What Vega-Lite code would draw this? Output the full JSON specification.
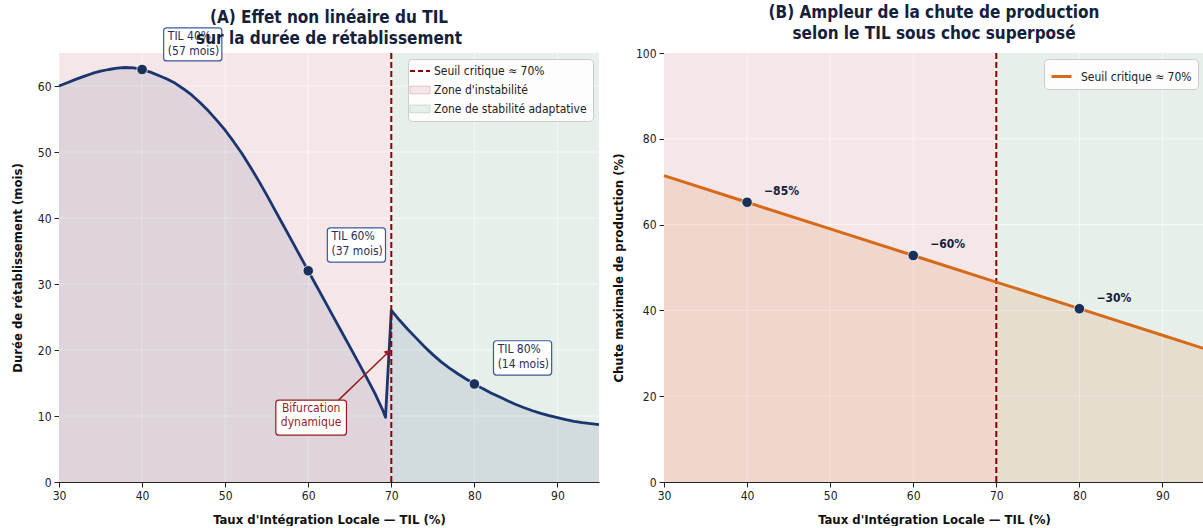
{
  "$schema": "https://vega.github.io/schema/vega-lite/v6.json",
  "background": "white",
  "padding": {"left": 11, "top": 4, "right": 0, "bottom": 0},
  "spacing": 11,
  "resolve": {"scale": {"fill": "independent", "stroke": "independent"}, "legend": {"fill": "independent", "stroke": "independent"}},
  "config": {
    "font": "DejaVu Sans Condensed, DejaVu Sans",
    "view": {"stroke": null},
    "axis": {
      "domainColor": "#222222", "tickColor": "#222222", "labelColor": "#222222",
      "labelFontSize": 12, "titleFontSize": 13, "titleFontWeight": "bold", "titleColor": "#111111",
      "grid": false, "tickSize": 5, "labelPadding": 3, "titlePadding": 8, "labelFlush": false
    },
    "axisX": {"titlePadding": 12},
    "title": {"fontSize": 17, "fontWeight": "bold", "color": "#14213d", "lineHeight": 21, "offset": 4},
    "legend": {
      "fillColor": "rgba(255,255,255,0.85)", "strokeColor": "#cccccc", "cornerRadius": 4,
      "padding": 6, "offset": 6, "labelFontSize": 12, "labelColor": "#222222", "symbolSize": 400,
      "rowPadding": 7, "labelOffset": 8
    },
    "text": {"lineBreak": "\n"}
  },
  "datasets": {
    "curve": [
      {"til": 30, "duree": 60.0}, {"til": 31, "duree": 60.5}, {"til": 32, "duree": 61.0}, {"til": 33, "duree": 61.45},
      {"til": 34, "duree": 61.9}, {"til": 35, "duree": 62.25}, {"til": 36, "duree": 62.5}, {"til": 37, "duree": 62.7},
      {"til": 38, "duree": 62.8}, {"til": 39, "duree": 62.75}, {"til": 40, "duree": 62.5}, {"til": 41, "duree": 62.1},
      {"til": 42, "duree": 61.6}, {"til": 43, "duree": 61.05}, {"til": 44, "duree": 60.4}, {"til": 45, "duree": 59.55},
      {"til": 46, "duree": 58.6}, {"til": 47, "duree": 57.45}, {"til": 48, "duree": 56.2}, {"til": 49, "duree": 54.8},
      {"til": 50, "duree": 53.3}, {"til": 51, "duree": 51.6}, {"til": 52, "duree": 49.8}, {"til": 53, "duree": 47.8},
      {"til": 54, "duree": 45.7}, {"til": 55, "duree": 43.5}, {"til": 56, "duree": 41.2}, {"til": 57, "duree": 38.9},
      {"til": 58, "duree": 36.6}, {"til": 59, "duree": 34.3}, {"til": 60, "duree": 32.0}, {"til": 61, "duree": 29.7},
      {"til": 62, "duree": 27.4}, {"til": 63, "duree": 25.1}, {"til": 64, "duree": 22.8}, {"til": 65, "duree": 20.5},
      {"til": 66, "duree": 18.2}, {"til": 67, "duree": 15.9}, {"til": 68, "duree": 13.5}, {"til": 69, "duree": 10.8},
      {"til": 69.3, "duree": 9.8}, {"til": 70, "duree": 26.0}, {"til": 71, "duree": 24.5}, {"til": 72, "duree": 23.1},
      {"til": 73, "duree": 21.8}, {"til": 74, "duree": 20.5}, {"til": 75, "duree": 19.3}, {"til": 76, "duree": 18.2},
      {"til": 77, "duree": 17.25}, {"til": 78, "duree": 16.4}, {"til": 79, "duree": 15.6}, {"til": 80, "duree": 14.85},
      {"til": 81, "duree": 14.15}, {"til": 82, "duree": 13.5}, {"til": 83, "duree": 12.9}, {"til": 84, "duree": 12.3},
      {"til": 85, "duree": 11.75}, {"til": 86, "duree": 11.25}, {"til": 87, "duree": 10.8}, {"til": 88, "duree": 10.4},
      {"til": 89, "duree": 10.05}, {"til": 90, "duree": 9.75}, {"til": 91, "duree": 9.45}, {"til": 92, "duree": 9.2},
      {"til": 93, "duree": 9.0}, {"til": 94, "duree": 8.85}, {"til": 95, "duree": 8.7}
    ],
    "curvePts": [{"til": 40, "duree": 62.5}, {"til": 60, "duree": 32.0}, {"til": 80, "duree": 14.85}],
    "zones": [
      {"zone": "Zone d'instabilité", "x0": 30, "x1": 70},
      {"zone": "Zone de stabilité adaptative", "x0": 70, "x1": 95}
    ],
    "seuil": [{"s": 70}],
    "gx": [{"g": 40}, {"g": 50}, {"g": 60}, {"g": 70}, {"g": 80}, {"g": 90}],
    "gyA": [{"g": 10}, {"g": 20}, {"g": 30}, {"g": 40}, {"g": 50}, {"g": 60}],
    "gyB": [{"g": 20}, {"g": 40}, {"g": 60}, {"g": 80}],
    "annA": [
      {"x0": 42.6, "x1": 49.6, "y0": 63.8, "y1": 68.8, "tx": 43.1, "ty": 68.3, "txt": "TIL 40%\n(57 mois)"},
      {"x0": 62.3, "x1": 69.3, "y0": 33.3, "y1": 38.5, "tx": 62.8, "ty": 38.0, "txt": "TIL 60%\n(37 mois)"},
      {"x0": 82.3, "x1": 89.3, "y0": 16.2, "y1": 21.4, "tx": 82.8, "ty": 20.9, "txt": "TIL 80%\n(14 mois)"}
    ],
    "bif": [{"x0": 56.1, "x1": 64.6, "y0": 7.1, "y1": 12.4, "tx": 60.35, "ty": 12.0, "txt": "Bifurcation\ndynamique"}],
    "arrow": [{"x": 63.4, "y": 12.1, "x2": 69.5, "y2": 19.5}],
    "arrowHead": [{"x": 69.6, "y": 19.7}],
    "prod": [
      {"til": 30, "chute": 71.4}, {"til": 40, "chute": 65.2}, {"til": 50, "chute": 59.0},
      {"til": 60, "chute": 52.8}, {"til": 70, "chute": 46.6}, {"til": 80, "chute": 40.4},
      {"til": 90, "chute": 34.2}, {"til": 95, "chute": 31.1}
    ],
    "prodPts": [
      {"til": 40, "chute": 65.2, "lbl": "−85%"},
      {"til": 60, "chute": 52.8, "lbl": "−60%"},
      {"til": 80, "chute": 40.4, "lbl": "−30%"}
    ]
  },
  "hconcat": [
    {
      "width": 540, "height": 429,
      "title": {"text": ["(A) Effet non linéaire du TIL", "sur la durée de rétablissement"], "offset": -21},
      "layer": [
        {
          "data": {"name": "zones"},
          "mark": {"type": "rect", "strokeWidth": 0},
          "encoding": {
            "x": {"field": "x0", "type": "quantitative", "title": "Taux d'Intégration Locale — TIL (%)", "scale": {"domain": [30, 95], "nice": false, "zero": false},
                  "axis": {"values": [30, 40, 50, 60, 70, 80, 90], "format": "d"}},
            "x2": {"field": "x1"},
            "fill": {
              "field": "zone", "type": "nominal",
              "scale": {"domain": ["Seuil critique ≈ 70%", "Zone d'instabilité", "Zone de stabilité adaptative"],
                        "range": ["#8b0000", "#f5e6e8", "#e7efeb"]},
              "legend": {
                "title": null, "orient": "top-right",
                "encode": {
                  "symbols": {"update": {
                    "shape": {"signal": "datum.value === 'Seuil critique ≈ 70%' ? 'M-1,0H1' : 'M-1,-0.38H1V0.38H-1Z'"},
                    "fill": {"signal": "datum.value === 'Seuil critique ≈ 70%' ? 'transparent' : (datum.value === 'Zone de stabilité adaptative' ? '#e3ece7' : '#f6dfe2')"},
                    "stroke": {"signal": "datum.value === 'Seuil critique ≈ 70%' ? '#8b0000' : (datum.value === 'Zone de stabilité adaptative' ? '#c9d9d0' : '#e8c3c8')"},
                    "strokeDash": {"signal": "datum.value === 'Seuil critique ≈ 70%' ? [5,3] : []"},
                    "strokeWidth": {"signal": "datum.value === 'Seuil critique ≈ 70%' ? 2 : 1"},
                    "opacity": {"value": 1}
                  }}
                }
              }
            }
          }
        },
        {
          "data": {"name": "gx"},
          "mark": {"type": "rule", "color": "#ffffff", "opacity": 0.6, "strokeWidth": 1},
          "encoding": {"x": {"field": "g", "type": "quantitative", "title": "Taux d'Intégration Locale — TIL (%)", "scale": {"domain": [30, 95], "nice": false, "zero": false}}}
        },
        {
          "data": {"name": "gyA"},
          "mark": {"type": "rule", "color": "#ffffff", "opacity": 0.6, "strokeWidth": 1},
          "encoding": {"y": {"field": "g", "type": "quantitative", "title": "Durée de rétablissement (mois)", "scale": {"domain": [0, 65], "nice": false}}}
        },
        {
          "data": {"name": "curve"},
          "mark": {"type": "area", "color": "#1f3a6e", "opacity": 0.1},
          "encoding": {
            "x": {"field": "til", "type": "quantitative", "title": "Taux d'Intégration Locale — TIL (%)", "scale": {"domain": [30, 95], "nice": false, "zero": false}},
            "y": {"field": "duree", "type": "quantitative", "title": "Durée de rétablissement (mois)", "scale": {"domain": [0, 65], "nice": false},
                  "axis": {"values": [0, 10, 20, 30, 40, 50, 60], "titlePadding": 13}}
          }
        },
        {
          "data": {"name": "curve"},
          "mark": {"type": "line", "color": "#1a3570", "strokeWidth": 2.8, "strokeJoin": "round"},
          "encoding": {
            "x": {"field": "til", "type": "quantitative", "title": "Taux d'Intégration Locale — TIL (%)", "scale": {"domain": [30, 95], "nice": false, "zero": false}},
            "y": {"field": "duree", "type": "quantitative", "title": "Durée de rétablissement (mois)", "scale": {"domain": [0, 65], "nice": false}}
          }
        },
        {
          "data": {"name": "seuil"},
          "mark": {"type": "rule", "color": "#8b0000", "strokeWidth": 2, "strokeDash": [6, 3]},
          "encoding": {"x": {"field": "s", "type": "quantitative", "title": "Taux d'Intégration Locale — TIL (%)", "scale": {"domain": [30, 95], "nice": false, "zero": false}}}
        },
        {
          "data": {"name": "curvePts"},
          "mark": {"type": "point", "filled": true, "color": "#1a2f5a", "size": 110, "opacity": 1, "stroke": "#ffffff", "strokeWidth": 0.8},
          "encoding": {
            "x": {"field": "til", "type": "quantitative", "title": "Taux d'Intégration Locale — TIL (%)", "scale": {"domain": [30, 95], "nice": false, "zero": false}},
            "y": {"field": "duree", "type": "quantitative", "title": "Durée de rétablissement (mois)", "scale": {"domain": [0, 65], "nice": false}}
          }
        },
        {
          "data": {"name": "annA"},
          "mark": {"type": "rect", "fill": "#ffffff", "stroke": "#3a5a9a", "strokeWidth": 1.2, "cornerRadius": 3, "clip": false},
          "encoding": {
            "x": {"field": "x0", "type": "quantitative", "title": "Taux d'Intégration Locale — TIL (%)", "scale": {"domain": [30, 95], "nice": false, "zero": false}},
            "x2": {"field": "x1"},
            "y": {"field": "y0", "type": "quantitative", "title": "Durée de rétablissement (mois)", "scale": {"domain": [0, 65], "nice": false}},
            "y2": {"field": "y1"}
          }
        },
        {
          "data": {"name": "annA"},
          "mark": {"type": "text", "align": "left", "baseline": "top", "fontSize": 12, "color": "#1f2f5a", "lineHeight": 14.5},
          "encoding": {
            "x": {"field": "tx", "type": "quantitative", "title": "Taux d'Intégration Locale — TIL (%)", "scale": {"domain": [30, 95], "nice": false, "zero": false}},
            "y": {"field": "ty", "type": "quantitative", "title": "Durée de rétablissement (mois)", "scale": {"domain": [0, 65], "nice": false}},
            "text": {"field": "txt"}
          }
        },
        {
          "data": {"name": "arrow"},
          "mark": {"type": "rule", "color": "#9b1b1b", "strokeWidth": 1.5},
          "encoding": {
            "x": {"field": "x", "type": "quantitative", "title": "Taux d'Intégration Locale — TIL (%)", "scale": {"domain": [30, 95], "nice": false, "zero": false}},
            "y": {"field": "y", "type": "quantitative", "title": "Durée de rétablissement (mois)", "scale": {"domain": [0, 65], "nice": false}},
            "x2": {"field": "x2"},
            "y2": {"field": "y2"}
          }
        },
        {
          "data": {"name": "arrowHead"},
          "mark": {"type": "point", "shape": "triangle-up", "angle": 46, "filled": true, "color": "#9b1b1b", "size": 45, "opacity": 1},
          "encoding": {
            "x": {"field": "x", "type": "quantitative", "title": "Taux d'Intégration Locale — TIL (%)", "scale": {"domain": [30, 95], "nice": false, "zero": false}},
            "y": {"field": "y", "type": "quantitative", "title": "Durée de rétablissement (mois)", "scale": {"domain": [0, 65], "nice": false}}
          }
        },
        {
          "data": {"name": "bif"},
          "mark": {"type": "rect", "fill": "#ffffff", "stroke": "#9b1b1b", "strokeWidth": 1.2, "cornerRadius": 3},
          "encoding": {
            "x": {"field": "x0", "type": "quantitative", "title": "Taux d'Intégration Locale — TIL (%)", "scale": {"domain": [30, 95], "nice": false, "zero": false}},
            "x2": {"field": "x1"},
            "y": {"field": "y0", "type": "quantitative", "title": "Durée de rétablissement (mois)", "scale": {"domain": [0, 65], "nice": false}},
            "y2": {"field": "y1"}
          }
        },
        {
          "data": {"name": "bif"},
          "mark": {"type": "text", "align": "center", "baseline": "top", "fontSize": 12, "color": "#9b1b1b", "lineHeight": 14.5},
          "encoding": {
            "x": {"field": "tx", "type": "quantitative", "title": "Taux d'Intégration Locale — TIL (%)", "scale": {"domain": [30, 95], "nice": false, "zero": false}},
            "y": {"field": "ty", "type": "quantitative", "title": "Durée de rétablissement (mois)", "scale": {"domain": [0, 65], "nice": false}},
            "text": {"field": "txt"}
          }
        }
      ]
    },
    {
      "width": 540, "height": 429,
      "title": {"text": ["(B) Ampleur de la chute de production", "selon le TIL sous choc superposé"]},
      "layer": [
        {
          "data": {"name": "zones"},
          "mark": {"type": "rect", "strokeWidth": 0},
          "encoding": {
            "x": {"field": "x0", "type": "quantitative", "title": "Taux d'Intégration Locale — TIL (%)", "scale": {"domain": [30, 95], "nice": false, "zero": false},
                  "axis": {"values": [30, 40, 50, 60, 70, 80, 90], "format": "d"}},
            "x2": {"field": "x1"},
            "fill": {"field": "zone", "type": "nominal",
                     "scale": {"domain": ["Zone d'instabilité", "Zone de stabilité adaptative"], "range": ["#f5e6e8", "#e7efeb"]},
                     "legend": null}
          }
        },
        {
          "data": {"name": "gx"},
          "mark": {"type": "rule", "color": "#ffffff", "opacity": 0.6, "strokeWidth": 1},
          "encoding": {"x": {"field": "g", "type": "quantitative", "title": "Taux d'Intégration Locale — TIL (%)", "scale": {"domain": [30, 95], "nice": false, "zero": false}}}
        },
        {
          "data": {"name": "gyB"},
          "mark": {"type": "rule", "color": "#ffffff", "opacity": 0.6, "strokeWidth": 1},
          "encoding": {"y": {"field": "g", "type": "quantitative", "title": "Chute maximale de production (%)", "scale": {"domain": [0, 100], "nice": false}}}
        },
        {
          "data": {"name": "prod"},
          "mark": {"type": "area", "color": "#d66a19", "opacity": 0.13},
          "encoding": {
            "x": {"field": "til", "type": "quantitative", "title": "Taux d'Intégration Locale — TIL (%)", "scale": {"domain": [30, 95], "nice": false, "zero": false}},
            "y": {"field": "chute", "type": "quantitative", "title": "Chute maximale de production (%)", "scale": {"domain": [0, 100], "nice": false},
                  "axis": {"values": [0, 20, 40, 60, 80, 100], "titlePadding": 10}}
          }
        },
        {
          "data": {"name": "seuil"},
          "mark": {"type": "rule", "color": "#8b0000", "strokeWidth": 2, "strokeDash": [6, 3]},
          "encoding": {"x": {"field": "s", "type": "quantitative", "title": "Taux d'Intégration Locale — TIL (%)", "scale": {"domain": [30, 95], "nice": false, "zero": false}}}
        },
        {
          "data": {"name": "prod"},
          "mark": {"type": "line", "strokeWidth": 3},
          "encoding": {
            "x": {"field": "til", "type": "quantitative", "title": "Taux d'Intégration Locale — TIL (%)", "scale": {"domain": [30, 95], "nice": false, "zero": false}},
            "y": {"field": "chute", "type": "quantitative", "title": "Chute maximale de production (%)", "scale": {"domain": [0, 100], "nice": false}},
            "stroke": {"datum": "Seuil critique ≈ 70%", "type": "nominal", "scale": {"range": ["#d66a19"]},
                       "legend": {"title": null, "orient": "top-right", "symbolStrokeWidth": 3, "symbolType": "M-1,0H1", "rowPadding": 0}}
          }
        },
        {
          "data": {"name": "prodPts"},
          "mark": {"type": "point", "filled": true, "color": "#1a2f5a", "size": 110, "opacity": 1, "stroke": "#ffffff", "strokeWidth": 0.8},
          "encoding": {
            "x": {"field": "til", "type": "quantitative", "title": "Taux d'Intégration Locale — TIL (%)", "scale": {"domain": [30, 95], "nice": false, "zero": false}},
            "y": {"field": "chute", "type": "quantitative", "title": "Chute maximale de production (%)", "scale": {"domain": [0, 100], "nice": false}}
          }
        },
        {
          "data": {"name": "prodPts"},
          "mark": {"type": "text", "align": "left", "baseline": "middle", "dx": 17, "dy": -11, "fontSize": 12, "fontWeight": "bold", "color": "#14213d"},
          "encoding": {
            "x": {"field": "til", "type": "quantitative", "title": "Taux d'Intégration Locale — TIL (%)", "scale": {"domain": [30, 95], "nice": false, "zero": false}},
            "y": {"field": "chute", "type": "quantitative", "title": "Chute maximale de production (%)", "scale": {"domain": [0, 100], "nice": false}},
            "text": {"field": "lbl"}
          }
        }
      ]
    }
  ]
}
